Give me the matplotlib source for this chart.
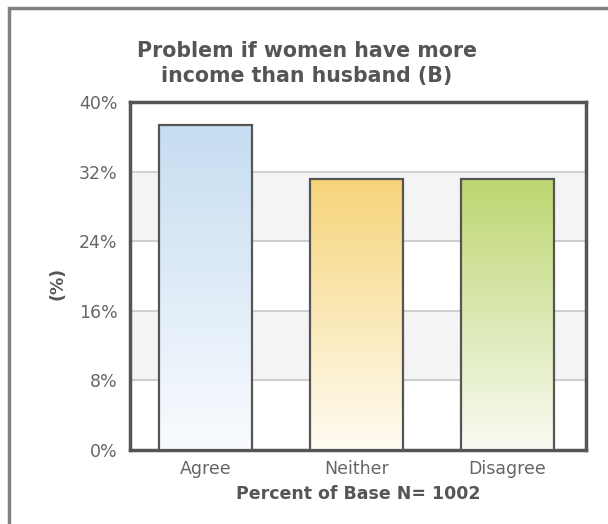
import numpy as np
import matplotlib.pyplot as plt
import matplotlib.patches as mpatches
from matplotlib.colors import LinearSegmentedColormap

# data
categories = ['Agree', 'Neither', 'Disagree']
values = [37.4, 31.2, 31.2]
top_colors = ['#c6ddf1', '#f6d479', '#bdd670']
bottom_colors = ['#f9fbfe', '#fffcf3', '#f9fbf3']
y_ticks = [0, 8, 16, 24, 32, 40]

fig = plt.figure(figsize=(6.08, 5.24), dpi=100)
W, H = 608, 524
ax = fig.add_axes([130 / W, 1 - 450 / H, 456 / W, 348 / H])

# outer frame (clipped at right/bottom like the original)
frame = mpatches.Rectangle((8.5 / W, -0.1), 1.2, (1 - 8.5 / H) + 0.1,
                           transform=fig.transFigure, fill=False,
                           edgecolor='#808080', linewidth=2.5, clip_on=False)
fig.patches.append(frame)

# alternating bands + gridlines
for lo, hi in [(8, 16), (24, 32)]:
    ax.axhspan(lo, hi, color='#f4f4f4', zorder=0)
for t in y_ticks[1:-1]:
    ax.axhline(t, color='#cccccc', linewidth=1.3, zorder=1)

bars = ax.bar(range(len(categories)), values, width=0.61, facecolor='none',
              edgecolor='#555555', linewidth=1.6, zorder=4)

grad = np.linspace(0, 1, 256).reshape(-1, 1)
for b, tc, bc in zip(bars, top_colors, bottom_colors):
    cmap = LinearSegmentedColormap.from_list('g', [bc, tc])
    x0, y0 = b.get_x(), b.get_y()
    ax.imshow(grad, cmap=cmap, origin='lower', aspect='auto', zorder=3,
              extent=[x0, x0 + b.get_width(), y0, y0 + b.get_height()])

ax.set_xlim(-0.5, 2.52)
ax.set_ylim(0, 40)
ax.set_yticks(y_ticks)
ax.set_yticklabels([f'{t}%' for t in y_ticks])
ax.set_xticks(range(len(categories)))
ax.set_xticklabels(categories)
ax.tick_params(length=0, labelsize=12.5, colors='#666666', pad=9)
ax.tick_params(axis='x', pad=7)
for s in ax.spines.values():
    s.set_color('#555555')
    s.set_linewidth(2.5)

ax.set_xlabel('Percent of Base N= 1002', fontsize=12.5, fontweight='bold',
              color='#555555', labelpad=5)
ax.set_ylabel('(%)', fontsize=12.5, fontweight='bold', color='#555555')
ax.yaxis.set_label_coords(-0.14, 0.48)
fig.text(307 / W, 1 - 63.5 / H, 'Problem if women have more\nincome than husband (B)',
         ha='center', va='center', fontsize=14.8, fontweight='bold',
         color='#555555', linespacing=1.35)

fig.savefig('out.png', dpi=100)
